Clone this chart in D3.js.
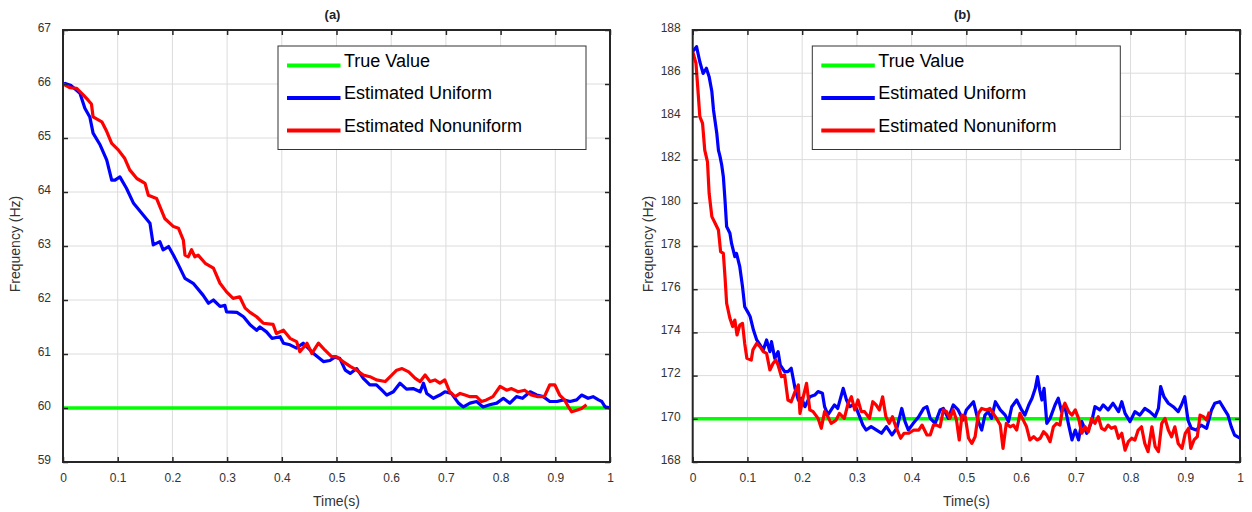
<!DOCTYPE html>
<meta charset="utf-8">
<style>
body { margin: 0; background: #fff; }
text { font-family: "Liberation Sans", Arial, Helvetica, sans-serif; }
.tick-label { font-size: 12px; fill: #333; }
.axis-label { font-size: 14px; fill: #333; }
.panel-title { font-size: 13px; font-weight: bold; fill: #222; }
.legend-text { font-size: 18px; fill: #000; }
</style>
<body>
<script src="https://d3js.org/d3.v7.min.js"></script>
<script>

// ---- data ----
var seriesNames = ["True Value", "Estimated Uniform", "Estimated Nonuniform"];
var seriesColors = ["#00ff00", "#0000ff", "#ff0000"];

// panel (a)
var trueA = 60;
var tUniformA = [0,0.004,0.015,0.031,0.04,0.049,0.055,0.068,0.08,0.089,0.095,0.104,0.116,0.129,0.147,0.159,0.165,0.177,0.183,0.193,0.202,0.211,0.223,0.238,0.256,0.266,0.275,0.287,0.296,0.299,0.318,0.33,0.342,0.354,0.36,0.372,0.382,0.397,0.403,0.415,0.427,0.439,0.458,0.476,0.488,0.497,0.506,0.516,0.525,0.537,0.549,0.561,0.573,0.583,0.592,0.604,0.616,0.628,0.64,0.653,0.659,0.665,0.677,0.689,0.698,0.71,0.723,0.732,0.744,0.756,0.768,0.78,0.793,0.805,0.817,0.829,0.84,0.854,0.866,0.878,0.89,0.903,0.915,0.927,0.939,0.948,0.96,0.969,0.979,0.985,0.991,1.0];
var uniformA = [66.0,66.01,65.97,65.83,65.55,65.39,65.09,64.87,64.59,64.22,64.22,64.28,64.07,63.79,63.57,63.42,63.02,63.08,62.93,62.99,62.83,62.65,62.40,62.31,62.09,61.94,62.00,61.88,61.90,61.78,61.77,61.69,61.54,61.44,61.50,61.41,61.29,61.32,61.20,61.17,61.11,61.20,61.01,60.86,60.88,60.94,60.92,60.70,60.64,60.73,60.55,60.43,60.43,60.33,60.24,60.30,60.46,60.35,60.36,60.30,60.46,60.27,60.18,60.24,60.30,60.27,60.09,60.02,60.09,60.12,60.02,60.06,60.09,60.18,60.09,60.21,60.18,60.30,60.24,60.21,60.12,60.12,60.15,60.12,60.15,60.24,60.18,60.21,60.15,60.12,60.02,60.0];
var tNonuniformA = [0,0.013,0.025,0.037,0.046,0.052,0.055,0.071,0.08,0.089,0.101,0.113,0.122,0.135,0.15,0.156,0.171,0.186,0.202,0.211,0.22,0.223,0.229,0.235,0.241,0.247,0.26,0.275,0.287,0.299,0.311,0.323,0.333,0.342,0.354,0.366,0.384,0.39,0.403,0.415,0.427,0.433,0.446,0.455,0.467,0.479,0.491,0.5,0.512,0.525,0.537,0.549,0.561,0.573,0.589,0.601,0.61,0.62,0.632,0.644,0.653,0.662,0.671,0.68,0.689,0.698,0.707,0.717,0.726,0.735,0.744,0.756,0.765,0.774,0.786,0.799,0.811,0.82,0.832,0.844,0.856,0.868,0.88,0.89,0.899,0.908,0.917,0.924,0.93,0.939,0.948,0.957];
var nonuniformA = [66.0,65.93,65.92,65.80,65.70,65.63,65.39,65.30,65.12,64.90,64.78,64.62,64.41,64.25,64.16,63.94,63.88,63.51,63.36,63.33,63.11,62.83,62.80,62.93,62.80,62.83,62.68,62.59,62.31,62.15,62.03,62.06,61.85,61.77,61.69,61.57,61.55,61.38,61.44,61.29,61.23,61.04,61.20,61.01,61.20,61.07,60.95,60.95,60.86,60.77,60.70,60.61,60.58,60.52,60.49,60.61,60.70,60.73,60.67,60.55,60.49,60.61,60.49,60.52,60.46,60.52,60.30,60.21,60.27,60.24,60.21,60.21,60.12,60.15,60.21,60.40,60.33,60.36,60.30,60.33,60.24,60.21,60.21,60.43,60.43,60.24,60.15,60.02,59.93,59.96,59.99,60.06];

// panel (b)
var trueB = 170;
var tUniformB = [0,0.007,0.013,0.019,0.025,0.03,0.035,0.038,0.044,0.047,0.05,0.053,0.056,0.059,0.062,0.068,0.071,0.077,0.08,0.086,0.091,0.095,0.102,0.105,0.111,0.117,0.123,0.129,0.135,0.141,0.144,0.15,0.156,0.16,0.168,0.174,0.18,0.187,0.193,0.199,0.205,0.214,0.223,0.229,0.237,0.241,0.247,0.253,0.259,0.265,0.275,0.281,0.287,0.293,0.299,0.305,0.311,0.317,0.326,0.336,0.345,0.354,0.364,0.373,0.382,0.388,0.394,0.403,0.413,0.422,0.428,0.434,0.443,0.452,0.458,0.467,0.476,0.485,0.494,0.5,0.513,0.522,0.528,0.534,0.54,0.546,0.553,0.562,0.571,0.577,0.583,0.592,0.601,0.607,0.614,0.62,0.626,0.63,0.634,0.638,0.642,0.647,0.653,0.662,0.668,0.674,0.68,0.687,0.693,0.699,0.705,0.711,0.72,0.729,0.735,0.744,0.75,0.759,0.768,0.778,0.784,0.79,0.799,0.808,0.817,0.826,0.835,0.845,0.851,0.855,0.861,0.869,0.878,0.887,0.893,0.899,0.905,0.911,0.92,0.929,0.939,0.948,0.954,0.963,0.972,0.978,0.984,0.99,1.0];
var uniformB = [187.0,187.23,186.53,185.99,186.23,185.84,185.15,184.30,183.22,182.44,182.14,181.75,181.21,180.13,178.90,178.59,178.12,177.51,177.66,177.04,176.12,175.19,174.88,174.73,174.11,173.65,173.42,173.19,173.65,173.11,173.57,172.80,173.11,172.49,172.18,172.18,172.34,171.41,170.87,170.95,170.56,171.02,171.10,171.26,171.18,170.56,170.18,170.41,170.64,170.48,171.41,170.87,170.56,170.64,170.48,170.10,169.71,169.48,169.64,169.48,169.33,169.64,169.25,169.56,170.48,169.87,169.48,169.79,170.10,170.48,170.56,170.02,169.79,170.41,170.48,170.02,170.64,170.41,169.94,170.41,170.79,169.87,169.48,170.17,170.33,170.02,170.79,170.41,170.17,169.87,170.56,170.87,170.41,170.17,170.64,170.95,171.41,171.95,171.33,170.87,171.41,169.79,170.02,170.64,170.95,170.33,170.56,169.71,169.02,169.48,169.02,169.87,169.33,169.87,170.56,170.41,170.64,170.41,170.72,170.33,170.79,170.25,169.87,170.33,170.17,170.48,170.33,170.10,170.48,171.49,171.02,170.72,170.56,170.33,170.64,171.02,169.94,169.56,169.48,169.71,169.56,170.41,170.72,170.79,170.41,170.17,169.64,169.25,169.10];
var tNonuniformB = [0,0.006,0.01,0.013,0.018,0.022,0.027,0.03,0.035,0.041,0.047,0.051,0.056,0.059,0.062,0.068,0.073,0.077,0.081,0.086,0.091,0.095,0.099,0.107,0.11,0.117,0.123,0.129,0.135,0.141,0.147,0.152,0.156,0.162,0.168,0.174,0.18,0.187,0.193,0.196,0.202,0.208,0.214,0.22,0.229,0.235,0.241,0.247,0.253,0.262,0.268,0.277,0.284,0.29,0.296,0.302,0.308,0.314,0.323,0.329,0.335,0.341,0.347,0.353,0.359,0.365,0.371,0.38,0.386,0.395,0.404,0.413,0.419,0.428,0.434,0.44,0.446,0.452,0.458,0.464,0.47,0.476,0.482,0.487,0.492,0.498,0.504,0.51,0.516,0.522,0.528,0.537,0.543,0.549,0.555,0.562,0.567,0.573,0.58,0.586,0.592,0.598,0.604,0.61,0.616,0.623,0.629,0.635,0.641,0.647,0.653,0.659,0.665,0.671,0.676,0.68,0.687,0.693,0.699,0.705,0.711,0.717,0.723,0.729,0.735,0.741,0.747,0.753,0.759,0.765,0.772,0.778,0.784,0.79,0.796,0.802,0.808,0.814,0.82,0.826,0.832,0.839,0.845,0.851,0.857,0.863,0.869,0.875,0.881,0.887,0.894,0.9,0.906,0.91,0.916,0.922,0.927,0.933,0.939,0.944];
var nonuniformB = [187.0,186.46,185.07,183.99,183.68,182.44,181.90,180.44,179.36,179.05,178.74,177.74,177.66,176.58,175.35,174.65,174.27,174.57,173.88,174.34,174.42,173.49,172.80,172.72,173.19,173.49,173.34,173.11,173.03,172.26,172.57,172.72,172.49,171.95,172.03,170.87,170.79,171.26,171.57,170.25,171.02,171.64,170.41,170.33,170.02,169.56,170.33,170.10,169.79,169.94,170.25,170.02,170.72,171.02,170.41,170.87,170.33,170.33,170.02,170.79,170.64,170.41,171.02,170.10,169.79,170.10,169.64,169.10,169.33,169.33,169.48,169.48,169.71,169.25,169.25,169.71,169.71,169.63,170.41,170.33,170.02,170.41,169.94,169.02,170.17,170.10,169.10,168.86,169.17,170.25,170.48,170.41,170.48,170.25,170.02,169.71,168.63,169.79,169.63,169.71,169.48,170.25,169.94,169.63,169.02,169.17,169.02,169.10,169.40,169.25,168.94,169.63,169.79,169.71,170.48,170.72,170.33,170.17,170.41,170.02,169.33,169.63,169.40,170.02,169.79,170.10,169.56,169.48,169.71,169.56,169.63,169.10,169.33,168.55,168.94,169.10,169.02,169.48,169.63,168.86,168.48,169.63,168.71,168.48,169.79,170.02,169.48,169.17,169.63,168.86,168.63,169.33,169.56,168.63,169.02,169.17,170.17,170.10,169.94,170.33];

var xTicks = [0,0.1,0.2,0.3,0.4,0.5,0.6,0.7,0.8,0.9,1];
var yTicksA = [59,60,61,62,63,64,65,66,67];
var yTicksB = [168,170,172,174,176,178,180,182,184,186,188];

function zip(ts, vs) { return ts.map(function(t, i) { return {t: t, v: vs[i]}; }); }

var svg = d3.select("body").append("svg")
    .attr("width", 1252).attr("height", 512);

function drawPanel(p) {
  var g = svg.append("g").attr("transform", "translate(" + p.left + "," + p.top + ")");
  var w = p.width, h = p.height;

  var x = d3.scaleLinear().domain([0, 1]).range([0, w]);
  var y = d3.scaleLinear().domain(p.yDomain).range([h, 0]);

  // grid
  g.append("g").selectAll("line").data(xTicks).enter().append("line")
      .attr("x1", d => x(d)).attr("x2", d => x(d)).attr("y1", 0).attr("y2", h)
      .attr("stroke", "#dcdcdc").attr("stroke-width", 1);
  g.append("g").selectAll("line").data(p.yTicks).enter().append("line")
      .attr("y1", d => y(d)).attr("y2", d => y(d)).attr("x1", 0).attr("x2", w)
      .attr("stroke", "#dcdcdc").attr("stroke-width", 1);

  // clip
  var clipId = "clip" + p.id;
  g.append("clipPath").attr("id", clipId).append("rect")
      .attr("width", w).attr("height", h);

  var line = d3.line().x(d => x(d.t)).y(d => y(d.v));
  var plot = g.append("g").attr("clip-path", "url(#" + clipId + ")");

  plot.append("path").datum([{t: 0, v: p.trueVal}, {t: 1, v: p.trueVal}])
      .attr("d", line).attr("fill", "none")
      .attr("stroke", seriesColors[0]).attr("stroke-width", 3.5);
  plot.append("path").datum(p.uniform)
      .attr("d", line).attr("fill", "none").attr("stroke-linejoin", "round")
      .attr("stroke", seriesColors[1]).attr("stroke-width", 3.2);
  plot.append("path").datum(p.nonuniform)
      .attr("d", line).attr("fill", "none").attr("stroke-linejoin", "round")
      .attr("stroke", seriesColors[2]).attr("stroke-width", 3.2);

  // axes with inward ticks on all four sides
  g.append("g").attr("transform", "translate(0," + h + ")")
      .call(d3.axisBottom(x).tickValues(xTicks).tickSizeInner(-5).tickSizeOuter(0).tickFormat(d3.format("")))
      .call(a => a.select(".domain").remove())
      .call(a => a.selectAll("line").attr("stroke", "#262626").attr("stroke-width", 1.5))
      .call(a => a.selectAll("text").attr("class", "tick-label").attr("y", 11).attr("dy", "0.71em").attr("font-size", null).attr("font-family", null));
  g.append("g")
      .call(d3.axisTop(x).tickValues(xTicks).tickSizeInner(-5).tickSizeOuter(0).tickFormat(""))
      .call(a => a.select(".domain").remove())
      .call(a => a.selectAll("line").attr("stroke", "#262626").attr("stroke-width", 1.5));
  g.append("g")
      .call(d3.axisLeft(y).tickValues(p.yTicks).tickSizeInner(-5).tickSizeOuter(0))
      .call(a => a.select(".domain").remove())
      .call(a => a.selectAll("line").attr("stroke", "#262626").attr("stroke-width", 1.5))
      .call(a => a.selectAll("text").attr("class", "tick-label").attr("x", -12).attr("dy", "0.1em").attr("font-size", null).attr("font-family", null));
  g.append("g").attr("transform", "translate(" + w + ",0)")
      .call(d3.axisRight(y).tickValues(p.yTicks).tickSizeInner(-5).tickSizeOuter(0).tickFormat(""))
      .call(a => a.select(".domain").remove())
      .call(a => a.selectAll("line").attr("stroke", "#262626").attr("stroke-width", 1.5));

  g.append("rect").attr("width", w).attr("height", h)
      .attr("fill", "none").attr("stroke", "#262626").attr("stroke-width", 2);

  // labels
  g.append("text").attr("class", "panel-title").attr("text-anchor", "middle")
      .attr("x", w / 2 - 4).attr("y", -11).text(p.title);
  g.append("text").attr("class", "axis-label").attr("text-anchor", "middle")
      .attr("x", w / 2).attr("y", h + 44).text("Time(s)");
  g.append("text").attr("class", "axis-label").attr("text-anchor", "middle")
      .attr("transform", "rotate(-90)")
      .attr("x", -h / 2 + 2).attr("y", p.ylabelX).text("Frequency (Hz)");

  // legend
  var lg = g.append("g").attr("transform", "translate(" + p.legendX + ",16)");
  lg.append("rect").attr("width", p.legendW).attr("height", 103.5)
      .attr("fill", "#fff").attr("stroke", "#333").attr("stroke-width", 1);
  seriesNames.forEach(function(name, i) {
    var ly = 19.5 + i * 32.5;
    lg.append("line").attr("x1", 9).attr("x2", 62.5).attr("y1", ly).attr("y2", ly)
        .attr("stroke", seriesColors[i]).attr("stroke-width", 4);
    lg.append("text").attr("class", "legend-text").attr("x", 66).attr("y", ly + 1).text(name);
  });
}

drawPanel({id: "a", left: 63, top: 30, width: 547, height: 432, yDomain: [59, 67], yTicks: yTicksA,
  trueVal: trueA, uniform: zip(tUniformA, uniformA), nonuniform: zip(tNonuniformA, nonuniformA),
  title: "(a)", ylabelX: -43, legendX: 215, legendW: 308});
drawPanel({id: "b", left: 692.7, top: 30, width: 547.3, height: 432, yDomain: [168, 188], yTicks: yTicksB,
  trueVal: trueB, uniform: zip(tUniformB, uniformB), nonuniform: zip(tNonuniformB, nonuniformB),
  title: "(b)", ylabelX: -40, legendX: 119.6, legendW: 308});

</script>
</body>
